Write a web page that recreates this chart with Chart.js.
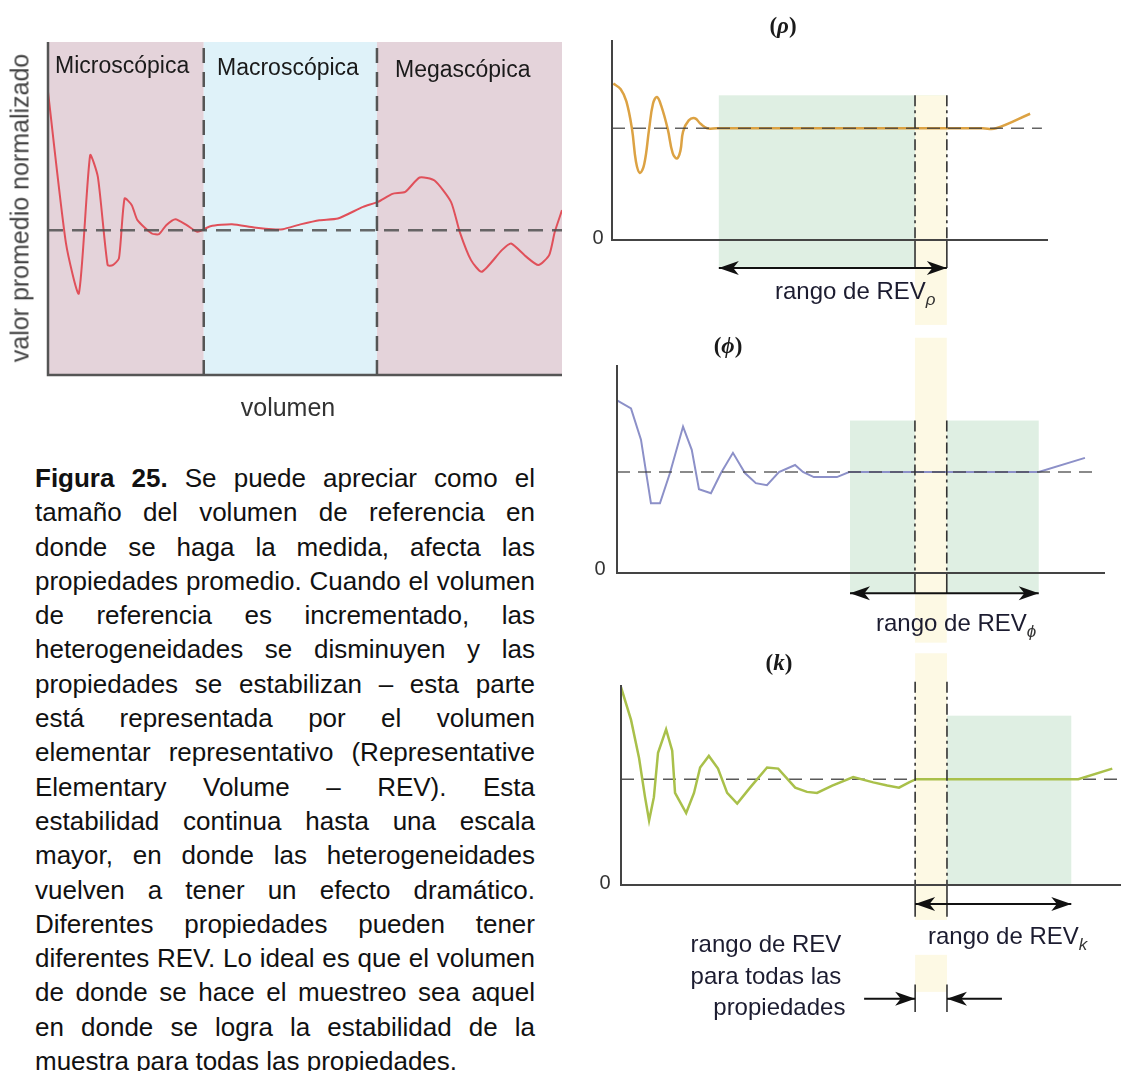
<!DOCTYPE html>
<html lang="es">
<head>
<meta charset="utf-8">
<title>Figura 25 - REV</title>
<script src="https://cdn.jsdelivr.net/npm/chart.js@4.4.1/dist/chart.umd.min.js"></script>
<style>
  body { margin: 0; background: #fff; font-family: "Liberation Sans", Arial, sans-serif; }
  #hoja { position: relative; width: 1125px; height: 1071px; overflow: hidden; }
  canvas { position: absolute; }
  .et { position: absolute; white-space: nowrap; color: #1a1a1a; line-height: 1; }
  .c { transform: translate(-50%, -50%); }
  .v { transform: translateY(-50%); }
  .tit { font-family: "Liberation Serif", "DejaVu Serif", serif; font-weight: bold; font-size: 23px; }
  .tit i { font-style: italic; }
  .rango { font-size: 24px; color: #1c1c30; }
  .rango sub { font-size: 17px; font-style: italic; vertical-align: -6px; color: #333; }
  #pie { position: absolute; left: 35px; top: 461px; width: 500px; font-size: 26px; line-height: 34.3px; color: #111; }
  #pie div { text-align: justify; text-align-last: justify; }
  #pie div.ult { text-align-last: left; }
</style>
</head>
<body>
<div id="hoja">
  <canvas id="izq" width="580" height="430" style="left:0;top:0"></canvas>
  <canvas id="rho" width="535" height="335" style="left:590px;top:0"></canvas>
  <canvas id="phi" width="535" height="318" style="left:590px;top:335px"></canvas>
  <canvas id="kap" width="535" height="418" style="left:590px;top:653px"></canvas>

  <div class="et v" style="left:55px;top:65px;font-size:23px">Microscópica</div>
  <div class="et v" style="left:217px;top:67px;font-size:23px">Macroscópica</div>
  <div class="et v" style="left:395px;top:69px;font-size:23px">Megascópica</div>
  <div class="et c" style="left:20px;top:208px;font-size:25px;color:#444;transform:translate(-50%,-50%) rotate(-90deg)">valor promedio normalizado</div>
  <div class="et c" style="left:288px;top:407px;font-size:25px;color:#333">volumen</div>

  <div class="et c tit" style="left:783px;top:25px">(<i>ρ</i>)</div>
  <div class="et c" style="left:598px;top:237px;font-size:20px;color:#333">0</div>
  <div class="et v rango" style="left:775px;top:293px">rango de REV<sub>ρ</sub></div>

  <div class="et c tit" style="left:728px;top:345px">(<i>ϕ</i>)</div>
  <div class="et c" style="left:600px;top:568px;font-size:20px;color:#333">0</div>
  <div class="et v rango" style="left:876px;top:625px">rango de REV<sub>ϕ</sub></div>

  <div class="et c tit" style="left:779px;top:662px">(<i>k</i>)</div>
  <div class="et c" style="left:605px;top:882px;font-size:20px;color:#333">0</div>
  <div class="et v rango" style="left:928px;top:938px">rango de REV<sub>k</sub></div>
  <div class="et c rango" style="left:766px;top:975px;text-align:center;line-height:31.5px">rango de REV<br>para todas las<br>&nbsp;&nbsp;&nbsp;&nbsp;propiedades</div>

  <div id="pie">
    <div><b>Figura 25.</b> Se puede apreciar como el</div>
    <div>tamaño del volumen de referencia en</div>
    <div>donde se haga la medida, afecta las</div>
    <div>propiedades promedio. Cuando el volumen</div>
    <div>de referencia es incrementado, las</div>
    <div>heterogeneidades se disminuyen y las</div>
    <div>propiedades se estabilizan – esta parte</div>
    <div>está representada por el volumen</div>
    <div>elementar representativo (Representative</div>
    <div>Elementary Volume – REV). Esta</div>
    <div>estabilidad continua hasta una escala</div>
    <div>mayor, en donde las heterogeneidades</div>
    <div>vuelven a tener un efecto dramático.</div>
    <div>Diferentes propiedades pueden tener</div>
    <div>diferentes REV. Lo ideal es que el volumen</div>
    <div>de donde se hace el muestreo sea aquel</div>
    <div>en donde se logra la estabilidad de la</div>
    <div class="ult">muestra para todas las propiedades.</div>
  </div>
</div>

<script>
// curva de la izquierda: volumen (0-100) vs valor normalizado (0-100)
const volIzq = [0, 3.5, 6.0, 8.2, 9.7, 11.6, 12.6, 13.8, 14.9, 16.3, 17.4, 20.2, 21.6, 23.0, 24.8, 27.0, 29.1,
  31.6, 35.8, 40.1, 44.3, 45.7, 49.3, 52.8, 56.4, 61.3, 64.2, 67.0, 69.5, 72.3, 75.2, 78.4, 80.1, 82.3,
  84.4, 88.3, 90.1, 92.9, 95.4, 97.5, 98.6, 100];
const valIzq = [85, 39.5, 24.5, 66, 59.5, 33, 33, 35, 53, 51, 46.5, 42.5, 42.3, 45, 46.8, 45, 43,
  44.7, 45.3, 44.3, 43.7, 43.8, 45.3, 46.5, 47, 50.5, 52, 54.4, 55, 59.3, 58.4, 52, 43, 34.5,
  31, 37.5, 39.5, 35.7, 33, 36, 43, 49.5];
const nivelIzq = 43.5;
const limitesEscala = [30.3, 64]; // micro | macro | mega

// densidad (rho)
const volRho = [0.3, 2.0, 3.3, 4.6, 5.5, 6.4, 7.4, 8.5, 9.4, 10.3, 11.3, 12.8, 13.9, 14.9, 15.7, 16.3,
  17.6, 19.0, 20.3, 21.8, 24.0, 50.0, 85.0, 88.1, 95.9];
const valRho = [1.40, 1.35, 1.24, 0.99, 0.70, 0.60, 0.68, 0.99, 1.22, 1.28, 1.20, 0.99, 0.78, 0.73, 0.80, 0.97,
  1.07, 1.09, 1.04, 1.0, 1.0, 1.0, 1.0, 1.0, 1.13];

// porosidad (phi)
const volPhi = [1.15, 4.36, 6.65, 8.94, 11.0, 13.3, 16.3, 18.3, 19.95, 22.7, 25.0, 27.75, 30.5, 33.0, 35.55,
  38.3, 42.0, 43.8, 46.3, 51.6, 54.4, 97.9, 108.5];
const valPhi = [1.71, 1.63, 1.32, 0.69, 0.69, 0.99, 1.45, 1.22, 0.83, 0.79, 0.99, 1.19, 0.99, 0.89, 0.87,
  1.0, 1.07, 1.0, 0.95, 0.95, 1.0, 1.0, 1.14];

// permeabilidad (k)
const volK = [2.06, 4.36, 6.2, 7.57, 8.5, 9.6, 10.55, 12.4, 13.8, 14.45, 17.0, 18.8, 20.2, 22.2, 24.3, 26.4,
  28.7, 31.65, 35.55, 38.1, 42.0, 44.7, 47.0, 50.5, 55.3, 59.9, 63.1, 65.8, 68.1, 69.7, 106.9, 114.7];
const valK = [1.87, 1.56, 1.20, 0.83, 0.61, 0.83, 1.25, 1.47, 1.27, 0.87, 0.68, 0.87, 1.11, 1.22, 1.10, 0.87,
  0.77, 0.92, 1.11, 1.10, 0.92, 0.88, 0.87, 0.94, 1.02, 0.97, 0.94, 0.92, 0.97, 1.0, 1.0, 1.10];

// rangos REV (en unidades de volumen)
const revTodas = [69.5, 76.8];
const revRho = [24.5, 76.8];
const revPhi = [54.6, 97.9];
const revK = [69.5, 105.3];

const ROSA = '#e4d3da', CELESTE = '#dff2f9', VERDE = '#dfefe3', AMARILLO = '#fdf9e4';
const PUNTO_RAYA = [11, 4, 3, 4];

const pares = (xs, ys) => xs.map((v, i) => ({ x: v, y: ys[i] }));

function punta(ctx, x, y, dir) {
  const len = 20, half = 7;
  ctx.beginPath();
  ctx.moveTo(x, y);
  ctx.lineTo(x - dir * len, y - half);
  ctx.lineTo(x - dir * len * 0.72, y);
  ctx.lineTo(x - dir * len, y + half);
  ctx.closePath();
  ctx.fill();
}

// cajas sombreadas, líneas verticales, ejes y flechas
const figura = cfg => ({
  id: 'figura',
  beforeDatasetsDraw(chart) {
    const { ctx, scales: { x, y } } = chart;
    ctx.save();
    for (const c of cfg.cajas) {
      const x0 = x.getPixelForValue(c.x[0]), x1 = x.getPixelForValue(c.x[1]);
      const y0 = y.getPixelForValue(c.y[0]), y1 = y.getPixelForValue(c.y[1]);
      ctx.fillStyle = c.color;
      ctx.fillRect(x0, Math.min(y0, y1), x1 - x0, Math.abs(y1 - y0));
    }
    ctx.restore();
  },
  afterDatasetsDraw(chart) {
    const { ctx, chartArea: a, scales: { x, y } } = chart;
    ctx.save();
    for (const l of cfg.lineas || []) {
      const px = x.getPixelForValue(l.x);
      ctx.beginPath();
      ctx.setLineDash(l.dash || []);
      ctx.strokeStyle = l.color || '#333';
      ctx.lineWidth = l.w || 1.6;
      ctx.moveTo(px, y.getPixelForValue(l.y[0]));
      ctx.lineTo(px, y.getPixelForValue(l.y[1]));
      ctx.stroke();
    }
    ctx.setLineDash([]);
    ctx.strokeStyle = cfg.eje.color;
    ctx.lineWidth = cfg.eje.w;
    ctx.beginPath();
    ctx.moveTo(a.left, a.top);
    ctx.lineTo(a.left, a.bottom);
    ctx.lineTo(a.right, a.bottom);
    ctx.stroke();
    ctx.fillStyle = '#111';
    ctx.strokeStyle = '#111';
    ctx.lineWidth = 2;
    for (const f of cfg.flechas || []) {
      const xa = x.getPixelForValue(f.x[0]), xb = x.getPixelForValue(f.x[1]), py = y.getPixelForValue(f.y);
      ctx.beginPath();
      ctx.moveTo(xa, py);
      ctx.lineTo(xb, py);
      ctx.stroke();
      if (f.puntas.includes('i')) punta(ctx, xa, py, -1);
      if (f.puntas.includes('d')) punta(ctx, xb, py, 1);
    }
    ctx.restore();
  }
});

function grafica(id, cfg) {
  return new Chart(document.getElementById(id), {
    type: 'line',
    data: { datasets: cfg.series },
    options: {
      responsive: false,
      animation: false,
      layout: { padding: cfg.padding },
      plugins: { legend: { display: false }, tooltip: { enabled: false } },
      elements: { point: { radius: 0 } },
      scales: {
        x: { type: 'linear', display: false, min: cfg.x[0], max: cfg.x[1] },
        y: { display: false, min: 0, max: cfg.yMax }
      }
    },
    plugins: [figura(cfg)]
  });
}

const raya = (a, b, nivel, color, w, dash) => ({
  data: [{ x: a, y: nivel }, { x: b, y: nivel }],
  borderColor: color, borderWidth: w, borderDash: dash
});

// izquierda
grafica('izq', {
  padding: { left: 48, right: 18, top: 42, bottom: 55 },
  x: [0, 100], yMax: 100,
  series: [
    raya(0, 100, nivelIzq, 'rgba(80,80,80,0.85)', 2.5, [15, 9]),
    { data: pares(volIzq, valIzq), borderColor: '#e0505a', borderWidth: 2, tension: 0.2 }
  ],
  cajas: [
    { x: [0, limitesEscala[0]], y: [0, 100], color: ROSA },
    { x: limitesEscala, y: [0, 100], color: CELESTE },
    { x: [limitesEscala[1], 100], y: [0, 100], color: ROSA }
  ],
  lineas: limitesEscala.map(v => ({ x: v, y: [0, 100], dash: [15, 9], color: '#555', w: 2.5 })),
  eje: { color: '#555', w: 2.5 }
});

// rho
grafica('rho', {
  padding: { left: 22, right: 77, top: 40, bottom: 95 },
  x: [0, 100], yMax: 1.79,
  series: [
    raya(0, 98.6, 1, 'rgba(60,60,60,0.8)', 1.6, [13, 8]),
    { data: pares(volRho, valRho), borderColor: '#dca243', borderWidth: 2.5, tension: 0.4 }
  ],
  cajas: [
    { x: revRho, y: [-0.24, 1.295], color: VERDE },
    { x: revTodas, y: [-0.76, 1.295], color: AMARILLO }
  ],
  lineas: revTodas.flatMap(v => [
    { x: v, y: [1.295, 0], dash: PUNTO_RAYA },
    { x: v, y: [0, -0.25] }
  ]),
  flechas: [{ x: revRho, y: -0.25, puntas: 'id' }],
  eje: { color: '#444', w: 2 }
});

// phi
grafica('phi', {
  padding: { left: 27, right: 20, top: 30, bottom: 80 },
  x: [1.15, 113.1], yMax: 2.06,
  series: [
    raya(1.15, 110.8, 1, 'rgba(60,60,60,0.8)', 1.6, [13, 8]),
    { data: pares(volPhi, valPhi), borderColor: '#8c90c8', borderWidth: 2 }
  ],
  cajas: [
    { x: revPhi, y: [-0.2, 1.51], color: VERDE },
    { x: revTodas, y: [-0.69, 2.33], color: AMARILLO }
  ],
  lineas: revTodas.flatMap(v => [
    { x: v, y: [1.51, 0], dash: PUNTO_RAYA },
    { x: v, y: [0, -0.2] }
  ]),
  flechas: [{ x: revPhi, y: -0.2, puntas: 'id' }],
  eje: { color: '#444', w: 2 }
});

// k
grafica('kap', {
  padding: { left: 31, right: 4, top: 32, bottom: 186 },
  x: [2.06, 116.7], yMax: 1.89,
  series: [
    { data: pares(volK, valK), borderColor: '#a9c04a', borderWidth: 2.5 },
    raya(2.06, 116.7, 1, 'rgba(60,60,60,0.85)', 1.6, [13, 8])
  ],
  cajas: [
    { x: [revTodas[1], revK[1]], y: [0, 1.60], color: VERDE },
    { x: revTodas, y: [-0.33, 2.19], color: AMARILLO },
    { x: revTodas, y: [-1.01, -0.66], color: AMARILLO }
  ],
  lineas: revTodas.flatMap(v => [
    { x: v, y: [1.92, 0], dash: PUNTO_RAYA },
    { x: v, y: [0, -0.30] },
    { x: v, y: [-0.94, -1.2] }
  ]),
  flechas: [
    { x: revK, y: -0.18, puntas: 'id' },
    { x: [57.8, revTodas[0]], y: -1.075, puntas: 'd' },
    { x: [revTodas[1], 89.4], y: -1.075, puntas: 'i' }
  ],
  eje: { color: '#444', w: 2 }
});
</script>
</body>
</html>
